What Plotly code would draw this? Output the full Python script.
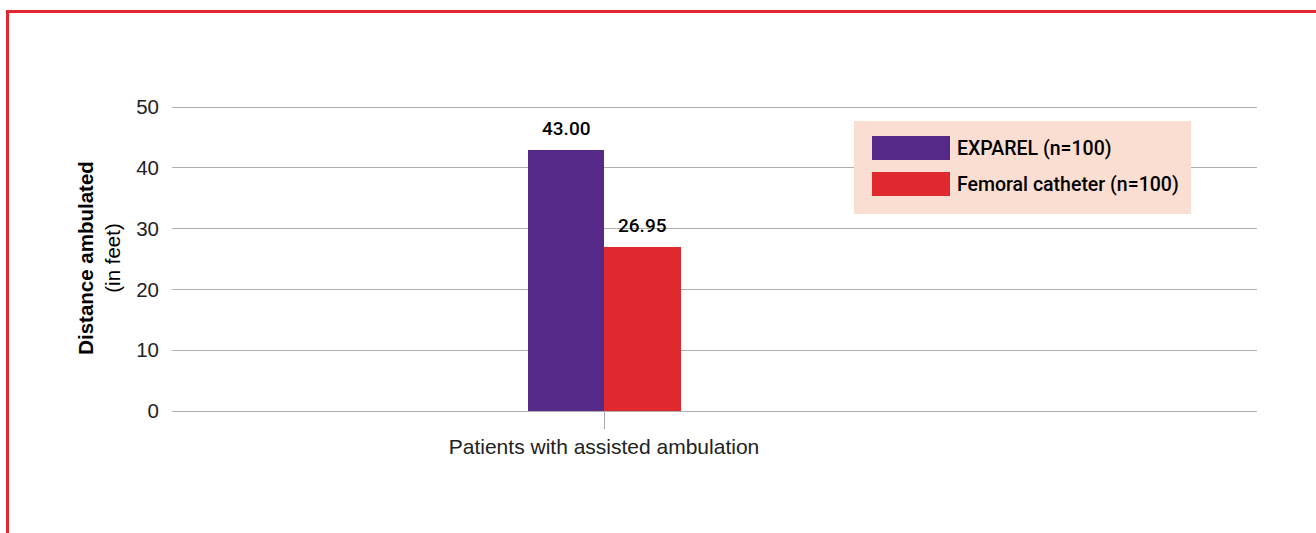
import plotly.graph_objects as go

categories = ["Patients with assisted ambulation"]
series_names = ["EXPAREL (n=100)", "Femoral catheter (n=100)"]
series_values = [[43.00], [26.95]]
series_colors = ["#552988", "#E0292E"]
y_ticks = [0, 10, 20, 30, 40, 50]

FONT = "Liberation Sans, Arial, Helvetica, sans-serif"
MED = "Roboto, Liberation Sans, Arial, sans-serif"

# pixel layout helpers (plot area 172..1257 x, 105..411 y)
L, R, T, B = 172, 59, 105, 122
W, H = 1316, 533
PW, PH = W - L - R, H - T - B
YMAX = 50 + 2 / 6.08


def fx(px):
    return (px - L) / PW


def fy(py):
    return (H - B - py) / PH


fig = go.Figure()
xpos = list(range(len(categories)))
offsets = [-0.25, 0.25]
for name, vals, col in zip(series_names, series_values, series_colors):
    fig.add_trace(go.Bar(x=xpos, y=vals, name=name, marker=dict(color=col, line=dict(width=0)),
                         showlegend=False))

annotations = []
for vals, off in zip(series_values, offsets):
    for i, v in enumerate(vals):
        annotations.append(dict(x=xpos[i] + off, y=v, xref="x", yref="y", text=f"{v:.2f}",
                                showarrow=False, yanchor="bottom", yshift=8,
                                font=dict(family=MED, size=19, color="#000000", weight=500)))

# custom legend
shapes = [dict(type="rect", xref="paper", yref="paper", x0=fx(854), x1=fx(1191), y0=fy(214), y1=fy(121),
               fillcolor="#FBDED2", line=dict(width=0), layer="above")]
legend_rows = [(136, 160), (172, 196)]
for (y0, y1), name, col in zip(legend_rows, series_names, series_colors):
    shapes.append(dict(type="rect", xref="paper", yref="paper", x0=fx(872), x1=fx(950), y0=fy(y1), y1=fy(y0),
                       fillcolor=col, line=dict(width=0), layer="above"))
    annotations.append(dict(x=fx(955), y=fy((y0 + y1) / 2), xref="paper", yref="paper", text=name,
                            showarrow=False, xanchor="left", yanchor="middle",
                            font=dict(family=MED, size=19.5, color="#000000", weight=500)))

# red frame
shapes.append(dict(type="line", xref="paper", yref="paper", x0=fx(6), x1=fx(1320), y0=fy(11.5), y1=fy(11.5),
                   line=dict(color="#E3262F", width=3)))
shapes.append(dict(type="line", xref="paper", yref="paper", x0=fx(7.5), x1=fx(7.5), y0=fy(10), y1=fy(540),
                   line=dict(color="#E3262F", width=3)))

fig.update_layout(
    width=W, height=H,
    margin=dict(l=L, r=R, t=T, b=B, autoexpand=False),
    paper_bgcolor="white", plot_bgcolor="white",
    barmode="group", bargap=0, bargroupgap=0,
    font=dict(family=FONT, size=20, color="#222222"),
    shapes=shapes, annotations=annotations,
    xaxis=dict(range=[-432 / 153, 653 / 153], tickvals=xpos, ticktext=categories,
               showgrid=False, zeroline=False, showline=False,
               ticks="outside", ticklen=17, tickcolor="#AAAAAA", tickwidth=1,
               tickfont=dict(family=FONT, size=21, color="#222222")),
    yaxis=dict(range=[0, YMAX], tickvals=y_ticks, showgrid=True, gridcolor="#AEAEAE", gridwidth=1,
               zeroline=True, zerolinecolor="#AEAEAE", zerolinewidth=1, showline=False,
               ticks="", ticklabelstandoff=12,
               tickfont=dict(family=FONT, size=20.5, color="#222222"),
               title=dict(text="<b>Distance ambulated</b><br>(in feet)", standoff=10,
                          font=dict(family=FONT, size=20.5, color="#000000"))),
)

fig.write_html("out.html")
